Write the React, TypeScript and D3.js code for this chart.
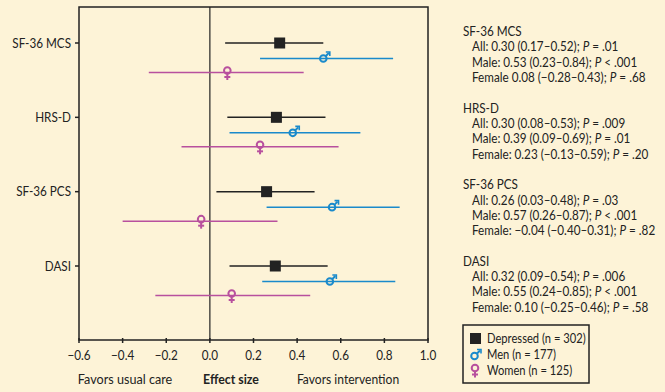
import { scaleLinear, scalePoint, format } from "d3";
import type { ReactNode } from "react";

const outcomes = ["SF-36 MCS", "HRS-D", "SF-36 PCS", "DASI"];
// depressed (all)
const allEst = [0.32, 0.305, 0.26, 0.3];
const allLo = [0.07, 0.08, 0.03, 0.09];
const allHi = [0.52, 0.53, 0.48, 0.54];
// men
const menEst = [0.52, 0.38, 0.56, 0.55];
const menLo = [0.23, 0.09, 0.26, 0.24];
const menHi = [0.84, 0.69, 0.87, 0.85];
// women
const womenEst = [0.08, 0.23, -0.04, 0.1];
const womenLo = [-0.28, -0.13, -0.4, -0.25];
const womenHi = [0.43, 0.59, 0.31, 0.46];

const xTicks = [-0.6, -0.4, -0.2, 0, 0.2, 0.4, 0.6, 0.8, 1.0];

const statLines = [
  ["All: 0.30 (0.17–0.52); P = .01", "Male: 0.53 (0.23–0.84); P < .001", "Female 0.08 (\u22120.28–0.43); P = .68"],
  ["All: 0.30 (0.08–0.53); P = .009", "Male: 0.39 (0.09–0.69); P = .01", "Female: 0.23 (\u22120.13–0.59); P = .20"],
  ["All: 0.26 (0.03–0.48); P = .03", "Male: 0.57 (0.26–0.87); P < .001", "Female: \u22120.04 (\u22120.40–0.31); P = .82"],
  ["All: 0.32 (0.09–0.54); P = .006", "Male: 0.55 (0.24–0.85); P < .001", "Female: 0.10 (\u22120.25–0.46); P = .58"],
];

const legendLabels = ["Depressed (n = 302)", "Men (n = 177)", "Women (n = 125)"];

const BG = "#fdf3d7";
const INK = "#222";
const BLUE = "#1a8acb";
const PINK = "#b8509e";
const FONT = "Lato, 'Open Sans', sans-serif";
const FS = 13;
const SX = 0.9; // squeeze text horizontally, the original uses a condensed face

const T = ({ x, y, anchor, bold, sx, children }: { x: number; y: number; anchor?: string; bold?: boolean; sx?: number; children: ReactNode }) => (
  <text
    transform={`translate(${x},${y}) scale(${sx ?? SX},1)`}
    textAnchor={anchor ?? "start"}
    fontSize={FS}
    fontWeight={bold ? "bold" : "normal"}
    fill={INK}
  >
    {children}
  </text>
);

const Male = ({ x, y }: { x: number; y: number }) => (
  <g stroke={BLUE} strokeWidth={2} fill="none">
    <circle cx={x} cy={y} r={3.3} />
    <line x1={x + 2.3} y1={y - 2.3} x2={x + 5.5} y2={y - 5.5} />
    <path d={`M${x + 2.5},${y - 6.5} L${x + 6.5},${y - 6.5} L${x + 6.5},${y - 2.5}`} strokeWidth={1.6} />
  </g>
);

const Female = ({ x, y }: { x: number; y: number }) => (
  <g stroke={PINK} strokeWidth={2} fill="none">
    <circle cx={x} cy={y - 2} r={3.3} />
    <line x1={x} y1={y + 1.3} x2={x} y2={y + 7.5} />
    <line x1={x - 3} y1={y + 4.5} x2={x + 3} y2={y + 4.5} />
  </g>
);

const StatText = ({ s, x, y }: { s: string; x: number; y: number }) => {
  const i = s.indexOf("; P");
  return (
    <T x={x} y={y}>
      {s.slice(0, i + 2)}
      <tspan fontStyle="italic">P</tspan>
      {s.slice(i + 3)}
    </T>
  );
};

export default function App() {
  const x = scaleLinear().domain([-0.6, 1.0]).range([79, 428]);
  const y = scalePoint<string>().domain(outcomes).range([43, 266]);
  const top = 7;
  const bottom = 340;
  const fmt = format(".1f");

  return (
    <svg width={665} height={392} style={{ position: "absolute", left: 0, top: 0 }} fontFamily={FONT}>
      <rect width={665} height={392} fill={BG} />
      {/* plot frame */}
      <rect x={x(-0.6)} y={top} width={x(1.0) - x(-0.6)} height={bottom - top} fill="none" stroke={INK} strokeWidth={1.5} />
      <line x1={x(0)} x2={x(0)} y1={top} y2={bottom} stroke={INK} strokeWidth={1.2} />

      {/* y axis labels */}
      {outcomes.map((o) => (
        <g key={o}>
          <line x1={x(-0.6) - 4} x2={x(-0.6)} y1={y(o)} y2={y(o)} stroke={INK} strokeWidth={1.5} />
          <T x={x(-0.6) - 8} y={y(o)! + 4.5} anchor="end">
            {o}
          </T>
        </g>
      ))}

      {/* x axis */}
      {xTicks.map((t) => (
        <g key={t}>
          <line x1={x(t)} x2={x(t)} y1={bottom - 2} y2={bottom + 3} stroke={INK} strokeWidth={1.5} />
          <T x={x(t)} y={bottom + 19.5} anchor="middle">
            {fmt(t)}
          </T>
        </g>
      ))}
      <T x={125} y={384} anchor="middle" sx={0.97}>Favors usual care</T>
      <T x={231} y={384} anchor="middle" bold sx={0.95}>Effect size</T>
      <T x={348} y={384} anchor="middle" sx={0.93}>Favors intervention</T>

      {/* estimates */}
      {outcomes.map((o, i) => {
        const yy = y(o)!;
        return (
          <g key={o}>
            <line x1={x(allLo[i])} x2={x(allHi[i])} y1={yy} y2={yy} stroke={INK} strokeWidth={1.5} />
            <rect x={x(allEst[i]) - 5.5} y={yy - 5.5} width={11} height={11} fill={INK} />
            <line x1={x(menLo[i])} x2={x(menHi[i])} y1={yy + 15.5} y2={yy + 15.5} stroke={BLUE} strokeWidth={1.5} />
            <Male x={x(menEst[i])} y={yy + 15.5} />
            <line x1={x(womenLo[i])} x2={x(womenHi[i])} y1={yy + 29.5} y2={yy + 29.5} stroke={PINK} strokeWidth={1.5} />
            <Female x={x(womenEst[i])} y={yy + 29.5} />
          </g>
        );
      })}

      {/* stats text */}
      {outcomes.map((o, i) => {
        const y0 = 36 + i * 76.6;
        return (
          <g key={o}>
            <T x={463} y={y0}>{o}</T>
            {statLines[i].map((s, j) => (
              <StatText key={j} s={s} x={472} y={y0 + 15.3 * (j + 1)} />
            ))}
          </g>
        );
      })}

      {/* legend */}
      <rect x={463} y={325} width={126} height={58} fill="none" stroke={INK} strokeWidth={1.5} />
      <rect x={470} y={333} width={11} height={11} fill={INK} />
      <Male x={474.5} y={356} />
      <Female x={475} y={370} />
      {legendLabels.map((l, i) => (
        <T key={l} x={487} y={343 + i * 16.2} sx={0.86}>
          {l}
        </T>
      ))}
    </svg>
  );
}
